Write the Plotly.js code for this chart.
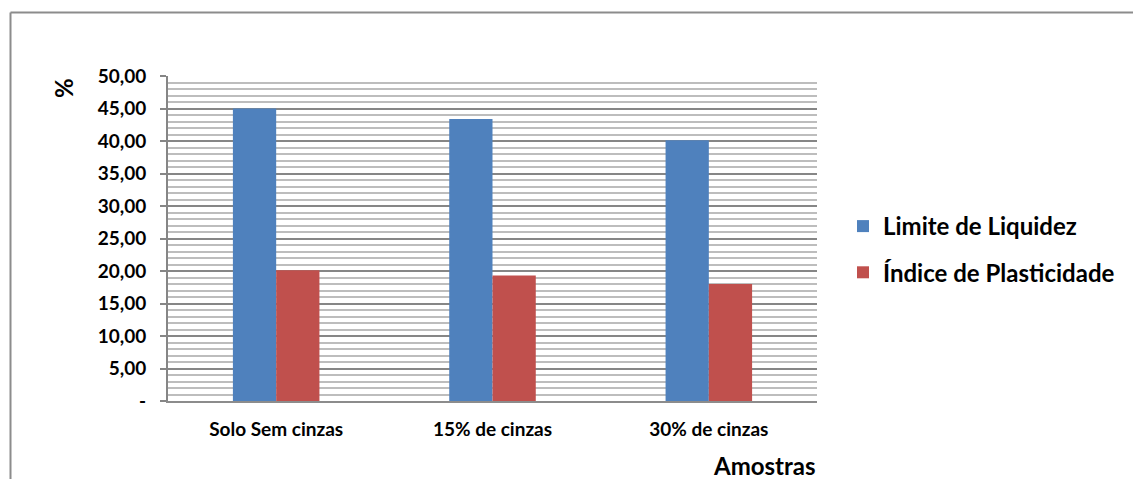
<!DOCTYPE html>
<html><head><meta charset="utf-8">
<script src="https://cdn.plot.ly/plotly-3.0.1.min.js"></script>
<style>body{margin:0;background:#fff}#chart{width:1133px;height:479px}</style>
</head><body><div id="chart"></div>
<script>
const categories = ["Solo Sem cinzas", "15% de cinzas", "30% de cinzas"];
const limiteLiquidez = [45.0, 43.4, 40.1];
const indicePlasticidade = [20.1, 19.3, 18.0];
const yTickVals = [0, 5, 10, 15, 20, 25, 30, 35, 40, 45, 50];
const yTickText = ["-", "5,00", "10,00", "15,00", "20,00", "25,00", "30,00", "35,00", "40,00", "45,00", "50,00"];
const seriesNames = ["Limite de Liquidez", "Índice de Plasticidade"];

const F = "Lato, 'Open Sans', sans-serif";
const traces = [
  {type: "bar", x: categories, y: limiteLiquidez, name: seriesNames[0], legendgroup: "a",
   marker: {color: "#4F81BD"}, hoverinfo: "y"},
  {type: "bar", x: categories, y: indicePlasticidade, name: seriesNames[1], legendgroup: "b",
   marker: {color: "#C0504D"}, hoverinfo: "y"}
];
const L = 168, R = 817, T = 76, B = 401;
const W = R - L, H = B - T;
const px = x => (x - L) / W, py = y => (B - y) / H;
const layout = {
  width: 1133, height: 479,
  margin: {l: L, r: 1133 - R, t: T, b: 479 - B},
  paper_bgcolor: "#fff", plot_bgcolor: "#fff",
  barmode: "group", bargap: 0.6, bargroupgap: 0,
  showlegend: true,
  font: {family: F, color: "#000"},
  xaxis: {
    showgrid: false, showline: true, linecolor: "#8c8c8c", linewidth: 2,
    ticks: "", tickfont: {family: F, size: 19, color: "#000", weight: "bold"},
    ticklabelstandoff: 10, fixedrange: true
  },
  yaxis: {
    range: [0, 50], tickvals: yTickVals, ticktext: yTickText,
    tickfont: {family: F, size: 19, color: "#000", weight: "bold"},
    showgrid: true, gridcolor: "#868686", gridwidth: 2,
    ticks: "outside", ticklen: 6, tickcolor: "#868686", tickwidth: 2,
    ticklabelstandoff: 10,
    showline: true, linecolor: "#868686", linewidth: 2,
    zeroline: false,
    minor: {dtick: 1, showgrid: true, gridcolor: "#bdbdbd", gridwidth: 2, ticks: ""},
    fixedrange: true
  },
  legend: {
    x: px(843), y: py(204), xanchor: "left", yanchor: "top",
    font: {family: F, size: 24, color: "#000", weight: "bold"},
    traceorder: "grouped", tracegroupgap: 12, itemwidth: 30,
    bgcolor: "rgba(0,0,0,0)"
  },
  annotations: [
    {text: "%", xref: "paper", yref: "paper", x: px(63), y: py(88), textangle: -90,
     xanchor: "center", yanchor: "middle",
     showarrow: false, font: {family: F, size: 24, weight: "bold", color: "#000"}},
    {text: "Amostras", xref: "paper", yref: "paper", x: px(818), y: py(465),
     xanchor: "right", yanchor: "middle",
     showarrow: false, font: {family: F, size: 24, weight: "bold", color: "#000"}}
  ],
  shapes: [
    {type: "line", xref: "paper", yref: "paper", x0: px(10.5), x1: px(1133), y0: py(12.5), y1: py(12.5),
     line: {color: "#8c8c8c", width: 2}},
    {type: "line", xref: "paper", yref: "paper", x0: px(10.5), x1: px(10.5), y0: py(12.5), y1: py(479),
     line: {color: "#8c8c8c", width: 2}}
  ]
};
Plotly.newPlot("chart", traces, layout, {displayModeBar: false, staticPlot: true});
</script>
</body></html>
